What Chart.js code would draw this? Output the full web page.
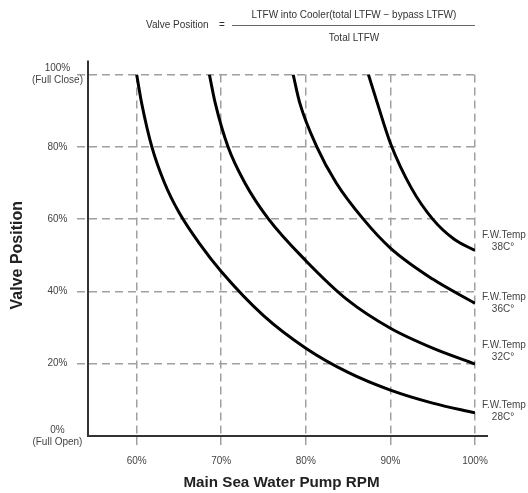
<!DOCTYPE html>
<html>
<head>
<meta charset="utf-8">
<script src="https://cdn.jsdelivr.net/npm/chart.js@4.4.1/dist/chart.umd.min.js"></script>
<style>
  html, body { margin: 0; padding: 0; background: #fff; }
</style>
</head>
<body>
<canvas id="chart" width="528" height="493"></canvas>
<script>
'use strict'

/******************     DATA    ******************/

// pump rpm (%) / valve position (%) for every F.W. temperature curve
const rpm28 = [60, 60.6, 61.8, 63.3, 65, 67.5, 70, 75, 80, 85, 90, 95, 100];
const pos28 = [100, 92, 80, 70, 61.9, 53, 45.5, 33.3, 24.3, 17.6, 12.7, 9.1, 6.4];

const rpm32 = [68.6, 69.3, 70.8, 72.8, 75.6, 80, 85, 90, 95, 100];
const pos32 = [100, 92, 80, 70, 60, 48.5, 37.5, 29.8, 24.3, 19.9];

const rpm36 = [78.5, 79.3, 81.3, 83.6, 86.8, 90, 95, 100];
const pos36 = [100, 92, 80, 70, 60, 52, 43.4, 36.7];

const rpm38 = [87.4, 88.4, 90, 92.5, 95, 97.5, 100];
const pos38 = [100, 92.5, 81, 68.5, 60, 54.5, 51.3];

const curveNames = ['38C°', '36C°', '32C°', '28C°'];
// where the little "F.W.Temp" notes sit, in valve position %
const curveLabelAt = [54, 36.7, 23.4, 6.9];

const xTicks = [60, 70, 80, 90, 100];
const yTicks = [0, 20, 40, 60, 80, 100];

/******************     HELPERS    ******************/

const toPoints = (xs, ys) => xs.map((x, i) => ({x: x, y: ys[i]}));

const yTickLabel = (v) => {
    if (v === 100) return ['100%', '(Full Close)'];
    if (v === 0) return ['0%', '(Full Open)'];
    return v + '%';
}

const curve = (xs, ys) => ({
    data: toPoints(xs, ys),
    borderColor: '#000',
    borderWidth: 3,
    pointRadius: 0,
    fill: false,
    cubicInterpolationMode: 'monotone'
});

const gridGrey = '#a0a0a0';
const axisDark = '#333';
const textGrey = '#444';

Chart.defaults.font.family = "'Liberation Sans', Arial, sans-serif";

/******************     PLUGINS (formula, notes, axis overhang)    ******************/

const extras = {
    id: 'extras',
    afterDraw(chart) {
        const ctx = chart.ctx;
        const area = chart.chartArea;
        const y = chart.scales.y;
        ctx.save();

        // axis lines run a bit past the plot
        ctx.strokeStyle = axisDark;
        ctx.lineWidth = 2;
        ctx.beginPath();
        ctx.moveTo(area.left, area.top);
        ctx.lineTo(area.left, area.top - 14);
        ctx.moveTo(area.right, area.bottom);
        ctx.lineTo(area.right + 13, area.bottom);
        ctx.stroke();

        // formula on top
        ctx.fillStyle = '#333';
        ctx.font = "10px 'Liberation Sans', Arial, sans-serif";
        ctx.textBaseline = 'middle';
        ctx.textAlign = 'left';
        ctx.fillText('Valve Position', 146, 25);
        ctx.textAlign = 'center';
        ctx.fillText('=', 222, 25);
        ctx.fillText('LTFW into Cooler(total LTFW − bypass LTFW)', 354, 15);
        ctx.fillText('Total LTFW', 354, 38);
        ctx.strokeStyle = '#666';
        ctx.lineWidth = 1;
        ctx.beginPath();
        ctx.moveTo(232, 25.5);
        ctx.lineTo(475, 25.5);
        ctx.stroke();

        // notes at the curve ends
        ctx.fillStyle = textGrey;
        curveNames.forEach((name, i) => {
            const py = y.getPixelForValue(curveLabelAt[i]);
            ctx.textAlign = 'left';
            ctx.fillText('F.W.Temp', area.right + 7, py - 6);
            ctx.textAlign = 'center';
            ctx.fillText(name, area.right + 28, py + 6);
        });
        ctx.restore();
    }
}

/******************     CHART    ******************/

const chart = new Chart(document.getElementById('chart'), {
    type: 'line',
    data: {
        datasets: [
            curve(rpm28, pos28),
            curve(rpm32, pos32),
            curve(rpm36, pos36),
            curve(rpm38, pos38)
        ]
    },
    options: {
        responsive: false,
        animation: false,
        layout: { padding: { top: 74.5, right: 53, left: 0, bottom: 0 } },
        plugins: {
            legend: { display: false },
            tooltip: { enabled: false }
        },
        scales: {
            x: {
                type: 'linear',
                min: 54.25,
                max: 100,
                afterBuildTicks: (s) => { s.ticks = xTicks.map(v => ({value: v})); },
                afterFit: (s) => { s.height = 57; },
                grid: {
                    color: gridGrey,
                    lineWidth: 1.5,
                    tickLength: 11,
                    tickBorderDash: [8, 5]
                },
                border: { display: true, color: axisDark, width: 2, dash: [8, 5] },
                ticks: {
                    color: textGrey,
                    padding: 8,
                    maxRotation: 0,
                    font: { size: 10, lineHeight: 1.2 },
                    callback: (v) => v + '%'
                },
                title: {
                    display: true,
                    text: 'Main Sea Water Pump RPM',
                    color: '#222',
                    font: { size: 15.2, weight: 'bold', lineHeight: 1.2 },
                    padding: { top: 0, bottom: 1 }
                }
            },
            y: {
                min: 0,
                max: 100,
                afterBuildTicks: (s) => { s.ticks = yTicks.map(v => ({value: v})); },
                afterFit: (s) => { s.width = 88; },
                grid: {
                    color: (c) => (c.tick && c.tick.value === 0) ? 'rgba(0,0,0,0)' : gridGrey,
                    lineWidth: 1.5,
                    tickLength: 11,
                    tickBorderDash: [8, 5]
                },
                border: { display: true, color: axisDark, width: 2, dash: [8, 5] },
                ticks: {
                    color: textGrey,
                    padding: -6,
                    crossAlign: 'center',
                    font: { size: 10, lineHeight: 1.2 },
                    callback: yTickLabel
                },
                title: {
                    display: true,
                    text: 'Valve Position',
                    color: '#222',
                    font: { size: 16, weight: 'bold', lineHeight: 1.2 },
                    padding: { top: 7.5, bottom: 0 }
                }
            }
        }
    },
    plugins: [extras]
});
</script>
</body>
</html>
